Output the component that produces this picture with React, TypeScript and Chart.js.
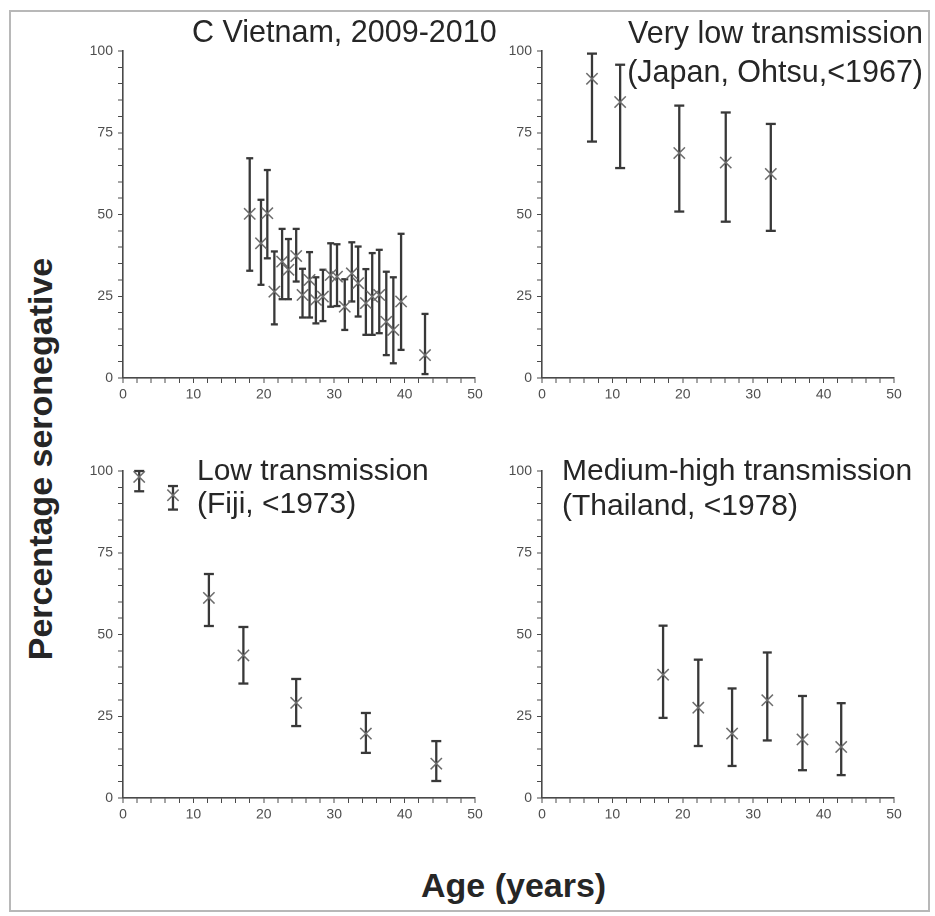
import React, { useEffect, useRef } from "react";
import { Chart, registerables } from "chart.js";

Chart.register(...registerables);

// ---------- data (age in years, % seronegative, 95% CI low/high) ----------
// C Vietnam, 2009-2010
const vnAge = [18.0, 19.6, 20.5, 21.5, 22.6, 23.5, 24.6, 25.5, 26.5, 27.4, 28.4, 29.5, 30.4, 31.5, 32.5, 33.4, 34.5, 35.4, 36.4, 37.4, 38.4, 39.5, 42.9];
const vnPct = [50.2, 41.2, 50.4, 26.4, 35.6, 33.1, 37.3, 25.4, 30.0, 23.9, 24.9, 31.5, 31.0, 21.8, 32.0, 29.0, 22.9, 24.9, 25.4, 17.2, 14.7, 23.4, 7.0];
const vnLow = [32.8, 28.5, 36.6, 16.4, 24.1, 24.1, 29.5, 18.5, 18.5, 16.7, 17.4, 21.8, 22.0, 14.7, 23.4, 18.8, 13.2, 13.2, 13.7, 7.0, 4.5, 8.6, 1.2];
const vnHigh = [67.2, 54.5, 63.6, 38.7, 45.6, 42.5, 45.6, 33.4, 38.5, 30.8, 33.1, 41.2, 40.9, 30.2, 41.5, 40.2, 33.3, 38.2, 39.2, 32.5, 30.8, 44.1, 19.6];

// Very low transmission (Japan, Ohtsu, <1967)
const jpAge = [7.1, 11.1, 19.5, 26.1, 32.5];
const jpPct = [91.5, 84.4, 68.8, 65.9, 62.4];
const jpLow = [72.3, 64.2, 50.9, 47.8, 45.0];
const jpHigh = [99.2, 95.8, 83.3, 81.2, 77.7];

// Low transmission (Fiji, <1973)
const fjAge = [2.3, 7.1, 12.2, 17.1, 24.6, 34.5, 44.5];
const fjPct = [98.2, 92.6, 61.2, 43.6, 29.1, 19.7, 10.5];
const fjLow = [93.8, 88.2, 52.6, 35.0, 22.0, 13.8, 5.2];
const fjHigh = [100.0, 95.4, 68.5, 52.3, 36.4, 26.0, 17.4];

// Medium-high transmission (Thailand, <1978)
const thAge = [17.2, 22.2, 27.0, 32.0, 37.0, 42.5];
const thPct = [37.7, 27.6, 19.7, 29.9, 17.9, 15.6];
const thLow = [24.5, 15.9, 9.8, 17.6, 8.5, 7.0];
const thHigh = [52.7, 42.3, 33.5, 44.5, 31.2, 29.0];

// axes
const xMin = 0;
const xMax = 50;
const xStep = 2;
const xLabelEvery = 10;
const yMin = 0;
const yMax = 100;
const yStep = 5;
const yLabelEvery = 25;

// ---------- styles ----------
const BAR = "#383838";
const CROSS = "#6c6c6c";
const AXIS = "#4a4a4a";
const TICK_TXT = "#4d4d4d";
const TXT = "#262626";
const TICK_FONT = "'Liberation Sans Narrow', 'Arial Narrow', 'Liberation Sans', Arial, sans-serif";
const TITLE_FONT = "'Liberation Sans', Arial, sans-serif";

const PAD_L = 60; // y-axis width
const PAD_T = 20;
const PAD_R = 20;
const AX_H = 35;
const PLOT_W = 352;
const PLOT_H = 327;

type PanelSpec = {
  age: number[];
  pct: number[];
  low: number[];
  high: number[];
  cap: number;
  plotLeft: number;
  plotTop: number;
};

const panels: PanelSpec[] = [
  { age: vnAge, pct: vnPct, low: vnLow, high: vnHigh, cap: 3.5, plotLeft: 123, plotTop: 51 },
  { age: jpAge, pct: jpPct, low: jpLow, high: jpHigh, cap: 5, plotLeft: 542, plotTop: 51 },
  { age: fjAge, pct: fjPct, low: fjLow, high: fjHigh, cap: 5, plotLeft: 123, plotTop: 471 },
  { age: thAge, pct: thPct, low: thLow, high: thHigh, cap: 4.5, plotLeft: 542, plotTop: 471 },
];

function PanelChart({ p }: { p: PanelSpec }) {
  const ref = useRef<HTMLCanvasElement | null>(null);
  useEffect(() => {
    if (!ref.current) return;
    const centers: any = {
      data: p.age.map((a, i) => ({ x: a, y: p.pct[i] })),
      showLine: false,
      pointStyle: "crossRot",
      pointRadius: 8,
      pointHoverRadius: 8,
      pointBorderColor: CROSS,
      pointBackgroundColor: CROSS,
      pointBorderWidth: 1.5,
      borderColor: CROSS,
      clip: false,
    };
    const bars: any[] = p.age.map((a, i) => ({
      data: [
        { x: a, y: p.low[i] },
        { x: a, y: p.high[i] },
      ],
      showLine: true,
      borderColor: BAR,
      borderWidth: 2.3,
      pointStyle: "line",
      pointRadius: p.cap,
      pointHoverRadius: p.cap,
      pointBorderColor: BAR,
      pointBorderWidth: 2.3,
      clip: false,
    }));
    const tickFont = { family: TICK_FONT, size: 14 };
    const chart = new Chart(ref.current, {
      type: "scatter",
      data: { datasets: [centers, ...bars] },
      options: {
        animation: false,
        responsive: true,
        maintainAspectRatio: false,
        devicePixelRatio: 2,
        events: [],
        layout: { padding: { left: 0, top: PAD_T, right: PAD_R, bottom: 0 } },
        plugins: { legend: { display: false }, tooltip: { enabled: false }, title: { display: false } },
        scales: {
          x: {
            type: "linear",
            min: xMin,
            max: xMax,
            afterFit: (s: any) => {
              s.height = AX_H;
            },
            ticks: {
              stepSize: xStep,
              autoSkip: false,
              maxRotation: 0,
              padding: 3,
              color: TICK_TXT,
              font: tickFont,
              callback: (v: any) => (Number(v) % xLabelEvery === 0 ? String(v) : ""),
            },
            grid: { drawOnChartArea: false, drawTicks: true, tickLength: 5, color: AXIS, lineWidth: 1 },
            border: { display: true, color: AXIS, width: 1.6 },
          },
          y: {
            type: "linear",
            min: yMin,
            max: yMax,
            afterFit: (s: any) => {
              s.width = PAD_L;
            },
            ticks: {
              stepSize: yStep,
              autoSkip: false,
              padding: 5,
              color: TICK_TXT,
              font: tickFont,
              callback: (v: any) => (Number(v) % yLabelEvery === 0 ? String(v) : ""),
            },
            grid: { drawOnChartArea: false, drawTicks: true, tickLength: 5, color: AXIS, lineWidth: 1 },
            border: { display: true, color: AXIS, width: 1.6 },
          },
        },
      } as any,
    });
    return () => chart.destroy();
  }, [p]);
  const w = PAD_L + PLOT_W + PAD_R;
  const h = PAD_T + PLOT_H + AX_H;
  return (
    <div
      style={{
        position: "absolute",
        left: p.plotLeft - PAD_L,
        top: p.plotTop - PAD_T,
        width: w,
        height: h,
      }}
    >
      <canvas ref={ref} />
    </div>
  );
}

function Label(props: {
  text: string;
  left?: number;
  right?: number;
  top: number;
  size: number;
  bold?: boolean;
}) {
  const { text, left, right, top, size, bold } = props;
  return (
    <div
      style={{
        position: "absolute",
        left,
        right,
        top,
        fontFamily: TITLE_FONT,
        fontSize: size,
        fontWeight: bold ? 700 : 400,
        color: TXT,
        whiteSpace: "nowrap",
        lineHeight: 1,
        zIndex: 2,
      }}
    >
      {text}
    </div>
  );
}

export default function App() {
  return (
    <div
      style={{
        position: "absolute",
        left: 0,
        top: 0,
        width: 935,
        height: 916,
        background: "#ffffff",
        overflow: "hidden",
      }}
    >
      <div
        style={{
          position: "absolute",
          left: 9,
          top: 10,
          width: 917,
          height: 898,
          border: "2px solid #b8b8b8",
        }}
      />
      {panels.map((p, i) => (
        <PanelChart key={i} p={p} />
      ))}
      <Label text="C Vietnam, 2009-2010" left={192} top={16} size={30.5} />
      <Label text="Very low transmission" right={12} top={17} size={30.5} />
      <Label text="(Japan, Ohtsu,<1967)" right={12} top={56} size={30.5} />
      <Label text="Low transmission" left={197} top={455} size={30} />
      <Label text="(Fiji, <1973)" left={197} top={488} size={30} />
      <Label text="Medium-high transmission" left={562} top={455} size={30} />
      <Label text="(Thailand, <1978)" left={562} top={490} size={30} />
      <Label text="Age (years)" left={421} top={868} size={34} bold />
      <div
        style={{
          position: "absolute",
          left: 40,
          top: 459,
          transform: "translate(-50%, -50%) rotate(-90deg)",
          fontFamily: TITLE_FONT,
          fontSize: 34,
          fontWeight: 700,
          color: TXT,
          whiteSpace: "nowrap",
          lineHeight: 1,
          zIndex: 2,
        }}
      >
        Percentage seronegative
      </div>
    </div>
  );
}
